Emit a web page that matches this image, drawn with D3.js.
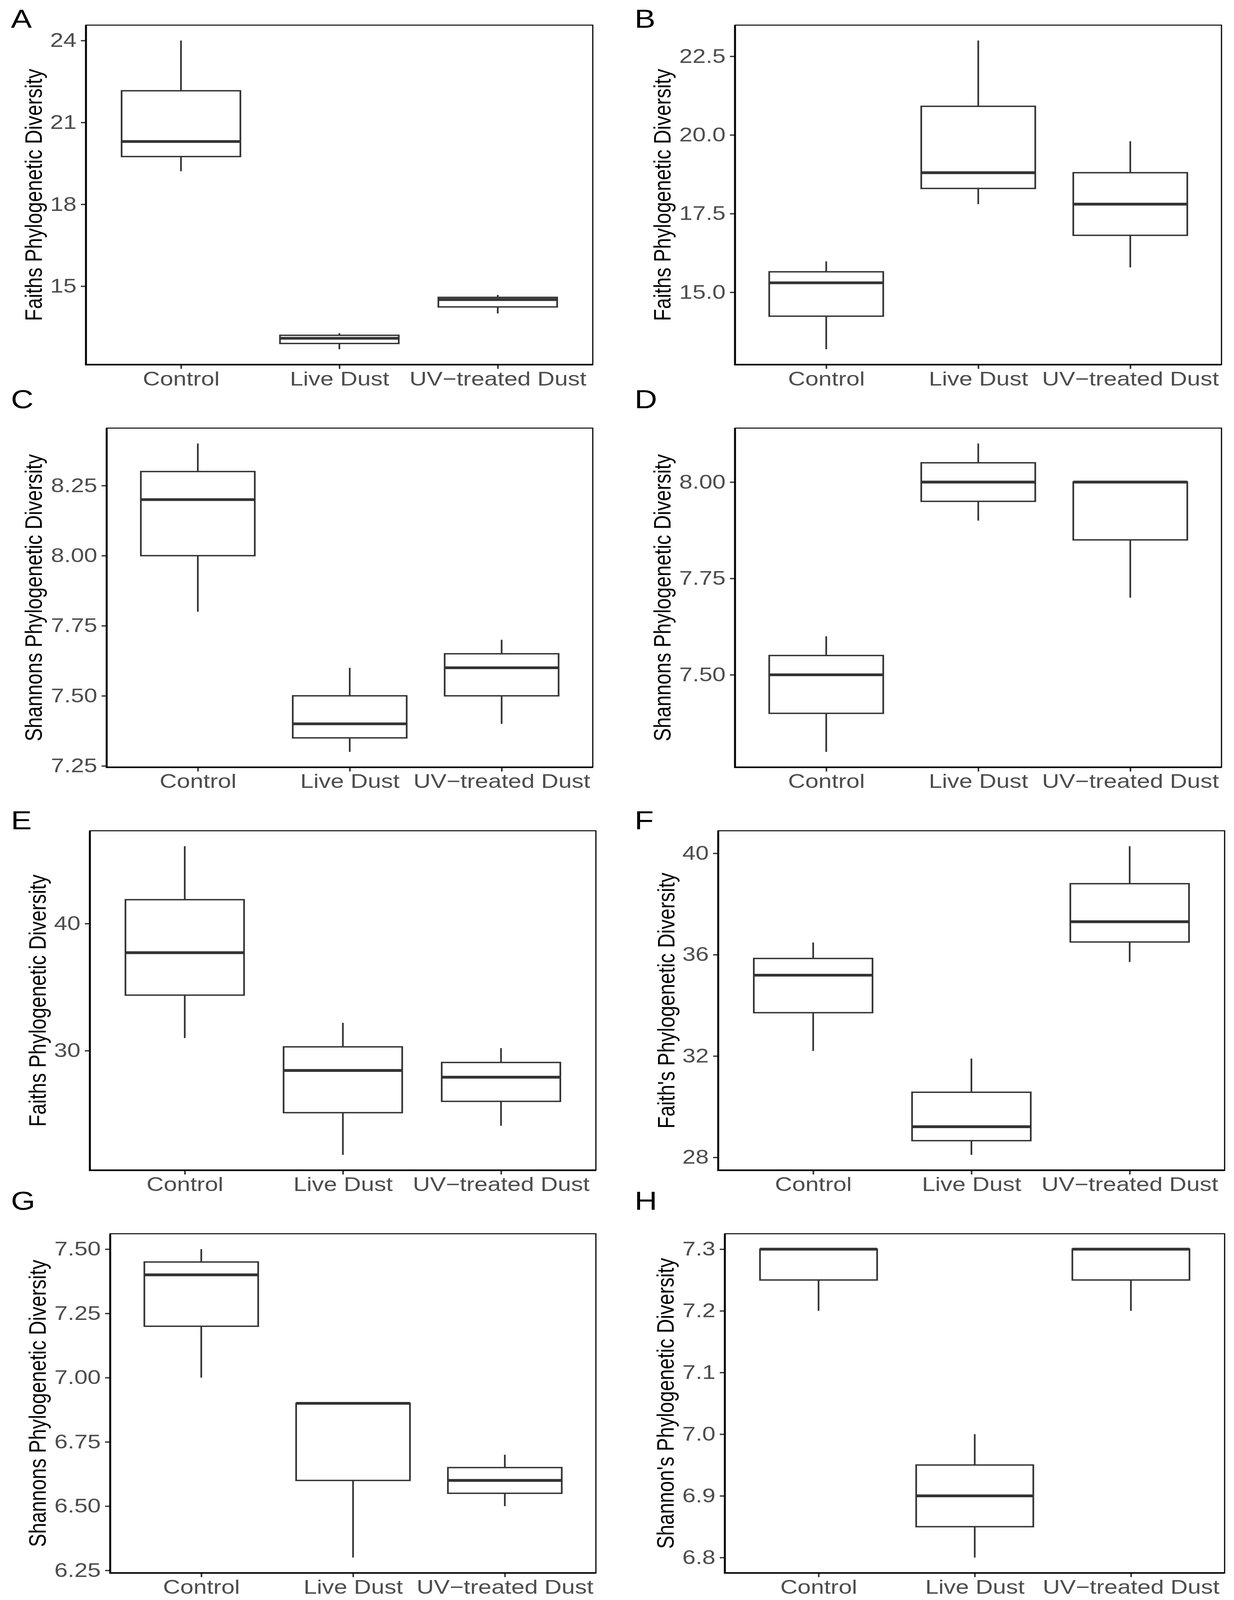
<!DOCTYPE html>
<html>
<head>
<meta charset="utf-8">
<script src="https://cdn.jsdelivr.net/npm/d3@7"></script>
<style>
  html, body { margin: 0; padding: 0; background: #ffffff; overflow: hidden; }
  #figure svg { display: block; width: 100vw; height: 100vh; }
  text { font-family: "Liberation Sans", Arial, Helvetica, sans-serif; }
</style>
</head>
<body>
<div id="figure"></div>
<script>

// groups on the x axis (same in every panel)
var groups = ["Control", "Live Dust", "UV\u2212treated Dust"];

// five number summaries per group: [min, q1, median, q3, max]
var statsA = [[19.21, 19.75, 20.30, 22.16, 24.00], [12.69, 12.90, 13.09, 13.20, 13.28], [14.00, 14.24, 14.51, 14.59, 14.68]];
var statsB = [[13.19, 14.24, 15.30, 15.65, 15.98], [17.80, 18.30, 18.80, 20.91, 23.00], [15.79, 16.81, 17.80, 18.80, 19.80]];
var statsC = [[7.80, 8.00, 8.20, 8.30, 8.40], [7.30, 7.35, 7.40, 7.50, 7.60], [7.40, 7.50, 7.60, 7.65, 7.70]];
var statsD = [[7.30, 7.40, 7.50, 7.55, 7.60], [7.90, 7.95, 8.00, 8.05, 8.10], [7.70, 7.85, 8.00, 8.00, 8.00]];
var statsE = [[30.99, 34.37, 37.71, 41.88, 46.09], [21.80, 25.12, 28.44, 30.30, 32.19], [24.09, 26.01, 27.91, 29.07, 30.20]];
var statsF = [[32.20, 33.71, 35.19, 35.85, 36.48], [28.10, 28.66, 29.21, 30.57, 31.90], [35.71, 36.50, 37.30, 38.80, 40.28]];
var statsG = [[7.00, 7.20, 7.40, 7.45, 7.50], [6.30, 6.60, 6.90, 6.90, 6.90], [6.50, 6.55, 6.60, 6.65, 6.70]];
var statsH = [[7.20, 7.25, 7.30, 7.30, 7.30], [6.80, 6.85, 6.90, 6.95, 7.00], [7.20, 7.25, 7.30, 7.30, 7.30]];

// y tick labels per panel
var ticksA = ["15", "18", "21", "24"];
var ticksB = ["15.0", "17.5", "20.0", "22.5"];
var ticksC = ["7.25", "7.50", "7.75", "8.00", "8.25"];
var ticksD = ["7.50", "7.75", "8.00"];
var ticksE = ["30", "40"];
var ticksF = ["28", "32", "36", "40"];
var ticksG = ["6.25", "6.50", "6.75", "7.00", "7.25", "7.50"];
var ticksH = ["6.8", "6.9", "7.0", "7.1", "7.2", "7.3"];

// y axis titles and panel letters
var yTitles = [
  "Faiths Phylogenetic Diversity", "Faiths Phylogenetic Diversity",
  "Shannons Phylogenetic Diversity", "Shannons Phylogenetic Diversity",
  "Faiths Phylogenetic Diversity", "Faith's Phylogenetic Diversity",
  "Shannons Phylogenetic Diversity", "Shannon's Phylogenetic Diversity"
];
var panelLetters = ["A", "B", "C", "D", "E", "F", "G", "H"];

var allStats = [statsA, statsB, statsC, statsD, statsE, statsF, statsG, statsH];
var allTicks = [ticksA, ticksB, ticksC, ticksD, ticksE, ticksF, ticksG, ticksH];

// layout (in figure pixels)
var width = 3158;
var height = 4967;

// plot area of each panel: [left, top, right, bottom]
var plotBoxes = [
  [220, 78, 1517, 1132], [1881, 78, 3126, 1132],
  [273, 1329, 1517, 2382], [1881, 1329, 3126, 2382],
  [230, 2579, 1525, 3633], [1838, 2579, 3134, 3633],
  [282, 3830, 1525, 4883], [1855, 3830, 3134, 4883]
];
// baseline x of the rotated y titles
var titleX = [107, 1716, 107, 1716, 117, 1726, 117, 1724];
// panel letter anchors
var letterX = [28, 1624];
var letterY = [86, 1267, 2574, 3756];

var fontSize = 61;
var tickLen = 13;
var inkColor = "#333333";
var tickTextColor = "#4d4d4d";

// svg wrapper, stretched over the whole window so nothing gets cut off
var svg = d3
  .select("#figure")
  .append("svg")
  .attr("viewBox", "0 0 " + width + " " + height)
  .attr("preserveAspectRatio", "none");

svg.append("rect")
  .attr("width", width)
  .attr("height", height)
  .attr("fill", "#ffffff");

function drawPanel(i) {
  var box = plotBoxes[i];
  var stats = allStats[i];
  var tickLabels = allTicks[i];
  var g = svg.append("g").attr("class", "panel panel" + panelLetters[i]);

  // ggplot style 5% expansion around the data range
  var lo = d3.min(stats, function(d) { return d[0]; });
  var hi = d3.max(stats, function(d) { return d[4]; });
  var pad = (hi - lo) * 0.05;

  var yScale = d3.scaleLinear()
    .domain([lo - pad, hi + pad])
    .range([box[3], box[1]]);

  // discrete axis: 0.6 units of space outside the first and last group
  var xScale = d3.scalePoint()
    .domain(groups)
    .range([box[0], box[2]])
    .padding(0.6);

  var boxWidth = xScale.step() * 0.75;

  // y axis
  var yAxis = d3.axisLeft(yScale)
    .tickValues(tickLabels.map(function(t) { return parseFloat(t); }))
    .tickFormat(function(d, k) { return tickLabels[k]; })
    .tickSize(tickLen)
    .tickPadding(11);

  var yG = g.append("g")
    .attr("transform", "translate(" + box[0] + ",0)")
    .call(yAxis);

  // x axis
  var xAxis = d3.axisBottom(xScale)
    .tickSize(tickLen)
    .tickPadding(8);

  var xG = g.append("g")
    .attr("transform", "translate(0," + box[3] + ")")
    .call(xAxis);

  [yG, xG].forEach(function(ax) {
    ax.select(".domain").remove();
    ax.selectAll(".tick line")
      .attr("stroke", inkColor)
      .attr("stroke-width", 4);
    ax.selectAll(".tick text")
      .attr("fill", tickTextColor)
      .style("font-size", fontSize + "px")
      .style("font-family", "'Liberation Sans', Arial, Helvetica, sans-serif");
  });

  // boxplots
  var boxes = g.selectAll("g.box")
    .data(stats)
    .enter()
    .append("g")
    .attr("class", "box");

  // upper whisker
  boxes.append("line")
    .attr("x1", function(d, k) { return xScale(groups[k]); })
    .attr("x2", function(d, k) { return xScale(groups[k]); })
    .attr("y1", function(d) { return yScale(d[3]); })
    .attr("y2", function(d) { return yScale(d[4]); })
    .attr("stroke", inkColor)
    .attr("stroke-width", 4.3);

  // lower whisker
  boxes.append("line")
    .attr("x1", function(d, k) { return xScale(groups[k]); })
    .attr("x2", function(d, k) { return xScale(groups[k]); })
    .attr("y1", function(d) { return yScale(d[1]); })
    .attr("y2", function(d) { return yScale(d[0]); })
    .attr("stroke", inkColor)
    .attr("stroke-width", 4.3);

  // interquartile box
  boxes.append("rect")
    .attr("x", function(d, k) { return xScale(groups[k]) - boxWidth / 2; })
    .attr("width", boxWidth)
    .attr("y", function(d) { return yScale(d[3]); })
    .attr("height", function(d) { return yScale(d[1]) - yScale(d[3]); })
    .attr("fill", "#ffffff")
    .attr("stroke", inkColor)
    .attr("stroke-width", 4.3);

  // median
  boxes.append("line")
    .attr("x1", function(d, k) { return xScale(groups[k]) - boxWidth / 2; })
    .attr("x2", function(d, k) { return xScale(groups[k]) + boxWidth / 2; })
    .attr("y1", function(d) { return yScale(d[2]); })
    .attr("y2", function(d) { return yScale(d[2]); })
    .attr("stroke", inkColor)
    .attr("stroke-width", 8.6);

  // panel border, with heavier axis lines on left and bottom
  g.append("rect")
    .attr("x", box[0])
    .attr("y", box[1])
    .attr("width", box[2] - box[0])
    .attr("height", box[3] - box[1])
    .attr("fill", "none")
    .attr("stroke", "#000000")
    .attr("stroke-width", 3);

  g.append("path")
    .attr("d", "M" + box[0] + "," + box[1] + "V" + box[3] + "H" + box[2])
    .attr("fill", "none")
    .attr("stroke", "#000000")
    .attr("stroke-width", 5);

  // y title
  g.append("text")
    .attr("transform", "translate(" + titleX[i] + "," + ((box[1] + box[3]) / 2) + ")rotate(-90)")
    .attr("text-anchor", "middle")
    .attr("fill", "#000000")
    .style("font-size", fontSize + "px")
    .text(yTitles[i]);

  // panel letter
  svg.append("text")
    .attr("x", letterX[i % 2])
    .attr("y", letterY[Math.floor(i / 2)])
    .attr("fill", "#000000")
    .style("font-size", "80px")
    .text(panelLetters[i]);
}

for (var i = 0; i < plotBoxes.length; i++) {
  drawPanel(i);
}

</script>
</body>
</html>
